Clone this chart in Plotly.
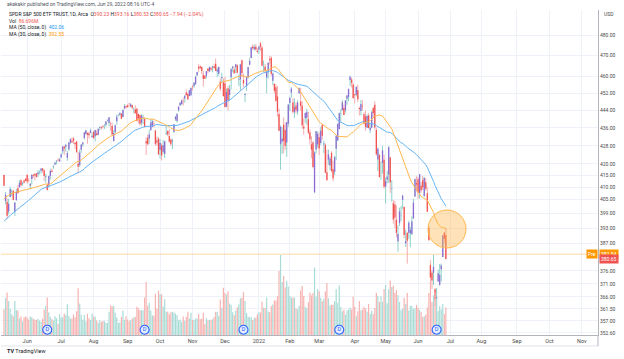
import math
import pandas as pd
import plotly.graph_objects as go

# ---------------- data (SPY daily, dividend-adjusted as displayed) ----------------
opens = [
    415.2, 404.2, 403.9, 399.8, 405.9, 408.1, 408.5, 399.6, 404.5, 409.6, 410.0, 413.0, 411.6, 412.9, 413.6,
    415.3, 413.1, 410.6, 413.5, 415.3, 415.8, 415.9, 415.6, 416.9, 417.1, 418.1, 417.3, 414.4, 411.0, 410.7, 414.8, 417.1, 418.8, 419.8, 421.1, 421.8, 421.1,
    422.8, 425.6, 427.7, 427.6, 422.7, 426.4, 429.3, 430.1, 431.3, 429.4, 429.9, 420.1, 419.6, 426.2, 428.6, 431.4, 433.2, 433.8, 433.6, 433.7, 431.8,
    434.1, 432.2, 433.6, 432.9, 435.9, 436.3, 436.8, 437.6, 437.4, 439.4, 438.3, 438.0, 436.8, 430.1, 434.0, 439.0, 441.7, 442.0, 442.4, 440.9, 444.8, 445.9,
    446.3, 447.0, 445.7, 446.4, 444.5, 444.4, 444.7, 442.3, 441.8, 438.3, 440.7, 440.0, 430.0, 431.6, 431.2, 435.0, 436.5, 437.9, 434.8, 430.3, 431.1,
    426.1, 428.1, 425.3, 424.4, 433.5, 434.6, 432.3, 430.8, 429.8, 434.2, 439.9, 439.1, 444.0, 446.2, 446.9, 448.2, 449.4, 452.3, 451.6, 450.6, 451.0,
    455.3, 455.3, 456.3, 460.4, 464.3, 464.7, 464.3, 460.6, 460.2, 460.1, 463.6, 462.2, 464.0, 464.2, 464.6, 465.9, 462.2, 461.1, 457.3, 459.1, 457.0,
    456.6, 445.7, 454.2, 451.1, 459.4, 463.7, 463.2, 464.2, 465.2, 458.1, 458.4, 467.6, 458.2, 451.1, 455.2, 459.4, 465.4, 468.7, 474.3, 473.0, 474.2, 472.2,
    472.9, 475.8, 473.8, 464.5, 464.5, 459.3, 461.8, 468.2, 468.8, 457.8, 456.3, 454.7, 450.4, 442.3, 428.7, 429.8, 437.4, 435.0, 429.4, 437.9,
    447.4, 452.2, 447.6, 443.1, 446.2, 443.4, 451.9, 448.0, 446.1, 436.6, 440.4, 440.6, 439.9, 434.0, 428.6, 429.4, 407.9, 426.3, 428.7,
    431.8, 429.2, 437.3, 428.6, 428.4, 416.4, 421.9, 419.3, 424.9, 417.7, 416.6, 426.7, 430.4, 435.5, 442.4, 444.0, 445.0, 444.0, 449.3, 450.2, 458.1, 458.4, 456.0,
    451.4, 451.2, 453.3, 445.0, 443.7, 446.1, 442.2, 441.2, 436.1, 441.7, 434.9, 436.0, 445.0, 446.6, 435.0, 421.9, 424.0, 415.4, 420.5, 421.8,
    410.3, 413.2, 415.3, 422.8, 409.3, 403.3, 402.7, 396.4, 387.7, 395.0, 398.3, 404.7, 401.7, 386.9, 391.1, 391.1, 390.9, 390.6, 397.0, 406.1, 411.8,
    413.4, 407.6, 410.6, 413.0, 406.3, 412.1, 407.5, 393.2, 378.3, 375.3, 375.3, 368.9, 365.5, 371.9, 370.6, 376.6, 381.4, 391.1, 390.23,
]
highs = [
    415.4, 408.0, 405.3, 405.1, 410.2, 409.1, 408.8, 403.8, 409.3, 410.9, 413.0, 413.4, 412.3, 413.4, 413.9,
    415.4, 413.9, 411.7, 415.6, 415.5, 415.9, 416.0, 417.3, 417.1, 418.1, 418.2, 417.6, 415.7, 411.7, 415.0, 417.9, 418.0, 419.5, 421.0, 421.6, 422.5, 422.7,
    424.5, 428.0, 427.9, 428.7, 425.6, 429.7, 431.3, 431.7, 431.8, 429.4, 430.0, 425.3, 426.3, 428.6, 429.6, 434.2, 434.9, 433.8, 434.2, 435.7, 434.0,
    434.7, 435.1, 434.9, 435.7, 436.7, 436.6, 437.2, 437.7, 439.1, 439.7, 440.9, 438.8, 438.4, 434.9, 437.5, 442.0, 442.3, 443.3, 442.7, 444.5, 446.9, 446.3,
    446.8, 447.3, 447.3, 446.5, 445.4, 446.3, 445.1, 442.6, 442.0, 442.1, 442.1, 440.5, 431.7, 433.0, 435.1, 440.0, 439.8, 439.2, 435.1, 432.1, 431.9,
    431.1, 429.1, 430.6, 430.2, 436.8, 435.0, 435.4, 431.2, 431.2, 437.8, 441.4, 442.7, 445.8, 447.8, 448.9, 449.8, 451.0, 453.6, 452.3, 453.5, 454.7,
    455.7, 457.2, 460.2, 462.0, 465.7, 465.2, 464.6, 462.4, 460.3, 462.4, 463.8, 464.6, 464.2, 465.0, 465.9, 468.5, 464.1, 464.6, 458.9, 461.6, 459.0,
    459.7, 454.1, 455.3, 455.8, 463.9, 465.0, 464.6, 465.9, 465.6, 460.7, 465.9, 467.9, 461.3, 452.0, 459.8, 464.4, 468.8, 473.9, 475.4, 475.2, 475.6, 473.5,
    474.5, 476.6, 474.6, 467.4, 465.8, 462.3, 466.5, 469.8, 469.5, 461.7, 456.6, 456.2, 455.3, 444.8, 437.1, 436.4, 440.7, 438.3, 438.3, 447.0,
    450.3, 454.8, 449.7, 449.5, 447.7, 448.6, 454.6, 454.4, 448.3, 440.2, 443.0, 444.8, 443.3, 435.4, 432.2, 430.0, 425.5, 434.5, 434.5,
    434.0, 436.5, 437.9, 430.2, 429.1, 426.3, 426.3, 423.2, 425.6, 421.4, 423.6, 432.5, 437.9, 443.0, 444.6, 448.7, 446.6, 448.6, 451.1, 454.0, 460.2, 459.3, 456.9,
    451.6, 455.0, 455.9, 445.7, 448.8, 448.7, 443.1, 443.9, 442.2, 442.8, 437.9, 443.9, 445.7, 448.1, 436.2, 427.2, 424.2, 421.1, 428.0, 424.1,
    414.1, 417.1, 427.9, 423.2, 413.0, 404.6, 404.3, 402.3, 394.1, 401.4, 402.2, 406.8, 402.0, 392.4, 391.3, 396.0, 393.5, 397.8, 405.2, 413.6, 414.7,
    414.4, 415.6, 412.2, 414.8, 414.4, 414.0, 409.9, 394.1, 380.2, 376.3, 382.3, 369.3, 369.38, 376.5, 378.7, 378.8, 390.1, 391.4, 393.16,
]
lows = [
    410.5, 402.8, 396.7, 398.6, 405.9, 406.1, 404.5, 398.0, 404.4, 407.2, 409.8, 410.3, 410.7, 411.6, 412.5,
    411.5, 412.0, 409.0, 411.1, 413.9, 413.0, 414.1, 414.3, 415.5, 415.8, 416.2, 412.6, 412.0, 408.6, 409.8, 413.3, 416.4, 417.9, 419.5, 419.8, 421.1, 421.1,
    422.7, 424.4, 423.9, 425.4, 421.4, 425.8, 428.8, 429.2, 428.8, 426.6, 424.8, 415.9, 418.7, 424.9, 427.6, 430.7, 432.9, 428.9, 431.2, 433.7, 431.7,
    431.1, 429.9, 432.5, 432.6, 434.9, 435.1, 435.7, 435.5, 436.5, 438.9, 436.7, 434.7, 432.7, 429.9, 433.5, 437.5, 441.2, 441.6, 440.0, 440.9, 444.5, 444.7,
    445.2, 445.6, 445.2, 444.4, 442.6, 442.4, 439.0, 438.0, 436.9, 437.1, 437.7, 436.1, 423.9, 428.2, 428.9, 434.7, 436.3, 436.3, 428.0, 428.1, 423.9,
    422.3, 421.5, 424.5, 422.6, 432.7, 432.3, 429.4, 427.9, 426.6, 433.7, 439.2, 438.4, 443.4, 446.1, 446.4, 446.2, 447.5, 450.7, 449.0, 450.5, 450.7,
    453.2, 454.3, 455.8, 460.0, 461.9, 463.2, 460.9, 455.0, 458.7, 459.0, 461.3, 462.1, 462.5, 461.8, 463.5, 462.4, 459.5, 460.2, 452.8, 456.7, 450.3,
    445.3, 445.3, 443.9, 448.6, 453.7, 461.8, 461.1, 461.5, 461.3, 455.3, 453.1, 459.5, 454.8, 447.7, 452.9, 458.7, 465.2, 468.6, 472.7, 472.5, 472.3, 471.3,
    470.5, 472.2, 464.9, 462.0, 461.3, 451.9, 458.8, 465.5, 460.0, 455.6, 451.9, 447.9, 441.1, 434.6, 417.5, 424.4, 424.7, 426.2, 423.1, 436.5,
    443.6, 449.9, 442.4, 440.5, 442.6, 441.9, 451.7, 443.9, 435.6, 432.9, 438.3, 437.4, 433.1, 428.5, 422.6, 418.1, 407.5, 424.6, 427.2,
    423.9, 428.4, 430.6, 424.7, 416.1, 412.6, 419.6, 417.2, 416.3, 412.6, 415.2, 421.6, 430.0, 435.4, 438.8, 444.0, 441.8, 442.9, 446.5, 448.2, 455.3, 454.6, 449.3,
    447.2, 450.4, 447.9, 441.6, 441.6, 444.0, 437.5, 434.7, 435.9, 435.8, 433.7, 435.8, 440.5, 435.2, 423.6, 417.0, 414.2, 413.2, 415.8, 409.4,
    403.2, 411.6, 411.9, 407.6, 403.9, 394.8, 393.1, 389.3, 383.5, 393.9, 395.9, 400.8, 388.9, 385.4, 378.8, 388.7, 385.3, 390.2, 396.8, 405.9, 408.2,
    405.1, 405.2, 407.7, 408.8, 405.8, 408.6, 399.6, 388.0, 371.7, 369.0, 370.5, 362.5, 362.17, 371.8, 370.2, 371.9, 381.4, 386.9, 380.53,
]
closes = [
    410.6, 406.9, 398.1, 403.0, 409.3, 408.2, 404.6, 403.6, 408.0, 407.6, 411.9, 410.9, 411.8, 412.0, 412.7,
    412.4, 413.0, 411.5, 415.3, 414.9, 415.0, 414.4, 416.3, 417.0, 418.0, 417.2, 414.8, 414.7, 408.8, 414.8, 417.0, 416.5, 419.0, 420.5, 421.4, 421.6, 422.0,
    424.3, 427.6, 426.8, 428.4, 424.8, 429.4, 431.0, 429.5, 430.1, 428.7, 425.2, 418.9, 425.0, 428.5, 429.4, 433.9, 434.9, 432.9, 432.7, 434.9, 432.4,
    431.4, 435.0, 432.8, 435.6, 436.3, 435.9, 436.5, 437.7, 438.9, 439.7, 440.8, 437.8, 433.0, 433.7, 437.2, 441.1, 441.8, 442.7, 440.1, 444.1, 446.0, 445.4,
    445.5, 446.9, 446.8, 445.2, 444.6, 442.7, 439.1, 440.3, 437.9, 441.6, 440.9, 436.5, 429.1, 428.7, 433.0, 438.3, 439.0, 437.7, 428.8, 429.6, 424.2,
    429.3, 423.7, 428.2, 430.0, 433.8, 433.0, 429.8, 428.7, 430.3, 437.6, 441.0, 442.3, 445.7, 447.5, 448.7, 448.1, 450.7, 451.1, 449.0, 453.4, 454.4,
    455.0, 456.9, 459.7, 461.9, 463.5, 463.9, 462.4, 458.6, 458.8, 462.3, 462.4, 464.3, 463.1, 464.7, 463.9, 462.6, 463.2, 464.4, 454.0, 459.6, 450.6,
    445.5, 452.4, 448.4, 453.8, 463.3, 464.5, 461.4, 465.7, 461.6, 458.4, 465.6, 461.5, 456.5, 451.6, 459.7, 464.3, 467.2, 473.9, 473.5, 474.1, 472.8, 471.6,
    474.3, 474.2, 465.0, 464.6, 462.7, 462.1, 466.4, 467.6, 461.1, 461.3, 453.1, 448.4, 443.4, 434.7, 436.5, 431.2, 430.1, 427.9, 438.7, 446.6,
    449.7, 454.1, 443.3, 445.4, 444.0, 447.6, 454.2, 446.0, 437.2, 435.7, 442.8, 443.3, 433.8, 430.9, 426.3, 418.7, 425.0, 434.5, 433.3,
    426.8, 434.7, 432.5, 429.0, 416.2, 413.1, 424.2, 422.3, 416.9, 413.8, 423.0, 432.4, 437.9, 442.6, 442.5, 447.7, 441.9, 448.6, 450.8, 454.0, 459.7, 456.8, 449.7,
    451.0, 454.9, 449.1, 444.6, 446.9, 445.7, 438.0, 436.4, 441.4, 435.9, 436.1, 443.1, 442.8, 436.2, 424.2, 426.7, 414.3, 415.5, 426.0, 410.2,
    412.7, 414.6, 427.3, 412.0, 409.5, 396.5, 397.4, 391.1, 390.6, 399.9, 398.4, 406.5, 390.2, 387.8, 387.9, 395.2, 392.2, 395.7, 403.5, 413.5, 411.1,
    407.8, 415.6, 408.7, 410.0, 413.9, 409.4, 399.7, 388.1, 373.4, 372.3, 377.6, 365.1, 365.86, 375.07, 374.39, 378.06, 390.08, 388.59, 380.65,
]
volumes_m = [
    81, 116, 134, 106, 82, 65, 59, 107, 79, 77, 52, 58, 43, 56, 58,
    55, 49, 58, 56, 51, 48, 48, 51, 45, 42, 51, 80, 91, 118, 72, 57, 50, 45, 59, 53, 35, 65,
    54, 57, 68, 63, 97, 60, 52, 52, 65, 55, 75, 147, 99, 64, 48, 63, 43, 67, 53, 47, 68,
    58, 58, 46, 38, 46, 41, 44, 44, 38, 39, 73, 93, 90, 92, 71, 55, 38, 40, 57, 77, 48, 59,
    48, 43, 47, 51, 56, 57, 89, 84, 78, 78, 78, 118, 167, 92, 102, 77, 62, 61, 130, 83, 140,
    129, 128, 90, 113, 73, 74, 65, 72, 73, 71, 67, 62, 46, 49, 41, 58, 45, 57, 73, 52, 70,
    48, 48, 52, 52, 66, 50, 52, 70, 35, 53, 46, 48, 48, 50, 57, 73, 73, 61, 112, 86, 149,
    132, 127, 137, 99, 95, 72, 62, 77, 87, 97, 116, 117, 135, 107, 69, 58, 56, 56, 47, 54, 55, 65,
    72, 71, 105, 86, 85, 119, 74, 72, 91, 96, 109, 109, 122, 202, 252, 167, 186, 150, 171, 153,
    123, 118, 118, 118, 84, 81, 92, 140, 154, 123, 89, 84, 103, 133, 125, 132, 213, 121, 145,
    138, 117, 106, 114, 137, 164, 116, 93, 95, 95, 106, 144, 102, 156, 88, 75, 80, 64, 77, 80, 87, 80, 121,
    89, 59, 75, 107, 78, 80, 89, 84, 74, 98, 67, 77, 65, 85, 132, 123, 104, 122, 105, 145,
    158, 100, 144, 172, 151, 155, 132, 142, 125, 104, 78, 83, 117, 98, 132, 77, 92, 91, 82, 84, 95,
    86, 79, 72, 57, 59, 64, 87, 132, 170, 104, 125, 134, 111, 76, 91, 80, 98, 66, 86.7,
]
# closes of the 49 sessions before the first bar (needed for the moving averages)
warmup_closes = [
    381.6, 378.6, 373.6, 368.9, 375.8, 373.9, 379.3, 381.6, 385.5, 386.0, 388.3, 387.8, 389.2, 383.5, 382.5,
    385.6, 382.5, 380.5, 382.7, 389.0, 388.8, 387.7, 389.3,
    393.6, 399.4, 399.1, 399.6, 401.5, 404.5, 404.6, 405.9, 404.5, 408.9, 410.3, 408.2, 405.2, 409.1, 405.3,
    409.7, 410.6, 410.5, 410.4, 413.1, 410.3,
    411.2, 408.6, 408.7, 412.1, 415.1,
]
month_keys = ["2021-06", "2021-07", "2021-08", "2021-09", "2021-10", "2021-11", "2021-12", "2022-01",
              "2022-02", "2022-03", "2022-04", "2022-05", "2022-06", "2022-07", "2022-08", "2022-09",
              "2022-10", "2022-11"]
month_labels = ["Jun", "Jul", "Aug", "Sep", "Oct", "Nov", "Dec", "2022", "Feb", "Mar", "Apr", "May",
                "Jun", "Jul", "Aug", "Sep", "Oct", "Nov"]
price_ticks = [480, 470, 460, 452, 444, 436, 428, 420, 415, 410, 405, 399, 393, 387, 376, 371,
               366, 361.5, 357, 352.6]
dividend_dates = ["2021-06-18", "2021-09-17", "2021-12-17", "2022-03-18", "2022-06-17"]
pre_price = 382.54
last_close = 380.65
holidays = ["2021-05-31", "2021-07-05", "2021-09-06", "2021-11-25", "2021-12-24", "2022-01-17",
            "2022-02-21", "2022-04-15", "2022-05-30", "2022-06-20", "2022-07-04", "2022-09-05"]

# ---------------- trading calendar / positions ----------------
calendar = [d for d in pd.bdate_range("2021-05-10", "2022-11-30") if d.strftime("%Y-%m-%d") not in holidays]
n = len(closes)
dates = [d.strftime("%Y-%m-%d") for d in calendar[:n]]
idx = list(range(n))
tick_pos = [next(i for i, d in enumerate(calendar) if d.strftime("%Y-%m") == m) for m in month_keys]
div_pos = [dates.index(d) for d in dividend_dates]

all_close = pd.Series(warmup_closes + closes)
ma50 = all_close.rolling(50).mean().iloc[len(warmup_closes):].tolist()
ma30 = all_close.rolling(30).mean().iloc[len(warmup_closes):].tolist()

UP_BODY, DN_BODY = "#8e6bd3", "#ef5350"
UP_WICK, DN_WICK = "#80cbc4", "#f4a3a8"
UP_VOL, DN_VOL = "#a9dcd6", "#f7b3b1"

up = [i for i in idx if closes[i] >= opens[i]]
dn = [i for i in idx if closes[i] < opens[i]]


def segments(sel, a, b):
    xs, ys = [], []
    for i in sel:
        xs += [i, i, None]
        ys += [a[i], b[i], None]
    return xs, ys


fig = go.Figure()

# volume (overlay)
fig.add_trace(go.Bar(x=idx, y=volumes_m, yaxis="y2", width=0.78,
                     marker=dict(color=[UP_VOL if closes[i] >= opens[i] else DN_VOL for i in idx], line_width=0),
                     hoverinfo="skip"))

# pre-market line
fig.add_trace(go.Scatter(x=[-10, 400], y=[pre_price, pre_price], mode="lines",
                         line=dict(color="rgba(255,152,0,0.35)", width=1), hoverinfo="skip"))

# wicks
for sel, col in ((up, UP_WICK), (dn, DN_WICK)):
    xs, ys = segments(sel, lows, highs)
    fig.add_trace(go.Scatter(x=xs, y=ys, mode="lines", line=dict(color=col, width=0.9), hoverinfo="skip"))
# bodies
for sel, col in ((up, UP_BODY), (dn, DN_BODY)):
    xs, ys = segments(sel, opens, closes)
    fig.add_trace(go.Scatter(x=xs, y=ys, mode="lines", line=dict(color=col, width=1.3), hoverinfo="skip"))

# moving averages
fig.add_trace(go.Scatter(x=idx, y=ma50, mode="lines", line=dict(color="#64b5f6", width=1), hoverinfo="skip"))
fig.add_trace(go.Scatter(x=idx, y=ma30, mode="lines", line=dict(color="#ffb74d", width=1), hoverinfo="skip"))

# dividend markers
fig.add_trace(go.Scatter(x=div_pos, y=[0.016] * len(div_pos), yaxis="y3", mode="markers+text",
                         text=["D"] * len(div_pos), textposition="middle center",
                         textfont=dict(size=5.5, color="#2962ff", family="Roboto"),
                         marker=dict(size=9, color="#e3ebff", line=dict(color="#2962ff", width=1.1)),
                         hoverinfo="skip"))

# ---------------- layout ----------------
L, R, T, B, W, H = 1, 26, 10, 24, 624, 359
PW, PH = W - L - R, H - T - B


def px_x(px):
    return (px - L) / PW


def px_y(py):
    return (H - B - py) / PH


x0_bar, px_per_bar = 4.0, 1.545
x_range = [(L - x0_bar) / px_per_bar, (W - R - x0_bar) / px_per_bar]

fig.update_layout(
    width=W, height=H, margin=dict(l=L, r=R, t=T, b=B),
    paper_bgcolor="white", plot_bgcolor="white", showlegend=False,
    font=dict(family="Roboto", size=6, color="#131722"),
    xaxis=dict(range=x_range, tickvals=tick_pos, ticktext=month_labels, showgrid=True,
               gridcolor="#eef1f7", gridwidth=1, zeroline=False, showline=True,
               linecolor="#b2b5be", linewidth=1, ticks="", tickfont=dict(size=5.5, color="#4a4a4a")),
    yaxis=dict(type="log", side="right", range=[2.54635, 2.69248], tickvals=price_ticks,
               ticktext=[f"{v:.2f}" for v in price_ticks], showgrid=True, gridcolor="#eef1f7",
               zeroline=False, showline=True, linecolor="#b2b5be", linewidth=1, ticks="",
               tickfont=dict(size=5, color="#4a4a4a")),
    yaxis2=dict(overlaying="y", range=[0, 1024], visible=False),
    yaxis3=dict(overlaying="y", range=[0, 1], visible=False),
)

# highlight circle
fig.add_shape(type="circle", xref="paper", yref="paper",
              x0=px_x(428), x1=px_x(466), y0=px_y(248), y1=px_y(210),
              fillcolor="rgba(255,183,77,0.40)", line=dict(color="#ffb74d", width=1))
# bottom frame
fig.add_shape(type="line", xref="paper", yref="paper", x0=0, x1=1, y0=px_y(346), y1=px_y(346),
              line=dict(color="#e0e3eb", width=1))
fig.add_shape(type="line", xref="paper", yref="paper", x0=1, x1=1, y0=px_y(346), y1=0,
              line=dict(color="#b2b5be", width=1))

ann = []
ann.append(dict(x=px_x(5), y=px_y(4), xref="paper", yref="paper", xanchor="left", yanchor="middle",
                text="akakakir published on TradingView.com, Jun 29, 2022 08:16 UTC-4",
                font=dict(size=5, color="#50535e"), showarrow=False))
red = "#ef5350"
g = "#131722"
ann.append(dict(x=px_x(7), y=px_y(15), xref="paper", yref="paper", xanchor="left", yanchor="middle",
                text=(f"<span style='color:{g}'>SPDR S&P 500 ETF TRUST, 1D, Arca</span>  "
                      f"<span style='color:{g}'>O</span><span style='color:{red}'>390.23</span> "
                      f"<span style='color:{g}'>H</span><span style='color:{red}'>393.16</span> "
                      f"<span style='color:{g}'>L</span><span style='color:{red}'>380.53</span> "
                      f"<span style='color:{g}'>C</span><span style='color:{red}'>380.65 −7.94 (−2.04%)</span>"),
                font=dict(size=5), showarrow=False))
ann.append(dict(x=px_x(7), y=px_y(21.5), xref="paper", yref="paper", xanchor="left", yanchor="middle",
                text=f"<span style='color:{g}'>Vol</span>  <span style='color:{red}'>86.696M</span>",
                font=dict(size=5), showarrow=False))
ann.append(dict(x=px_x(7), y=px_y(28), xref="paper", yref="paper", xanchor="left", yanchor="middle",
                text=f"<span style='color:{g}'>MA (50, close, 0)</span>  <span style='color:#2196f3'>402.06</span>",
                font=dict(size=5), showarrow=False))
ann.append(dict(x=px_x(7), y=px_y(34.5), xref="paper", yref="paper", xanchor="left", yanchor="middle",
                text=f"<span style='color:{g}'>MA (30, close, 0)</span>  <span style='color:#ff9800'>392.55</span>",
                font=dict(size=5), showarrow=False))
# axis currency
ann.append(dict(x=px_x(602), y=px_y(14), xref="paper", yref="paper", xanchor="left", yanchor="middle",
                text="USD", font=dict(size=5, color="#4a4a4a"), showarrow=False))
# price tags
ann.append(dict(x=px_x(599), y=math.log10(pre_price), xref="paper", yref="y", xanchor="left", yanchor="middle",
                text=f"{pre_price:.2f}", font=dict(size=5, color="white"), bgcolor="#ff9800",
                borderpad=1, showarrow=False))
ann.append(dict(x=px_x(598), y=math.log10(pre_price), xref="paper", yref="y", xanchor="right", yanchor="middle",
                text="Pre", font=dict(size=5, color="white"), bgcolor="#ff9800",
                borderpad=1, showarrow=False))
ann.append(dict(x=px_x(599), y=math.log10(last_close), xref="paper", yref="y", xanchor="left", yanchor="middle",
                text=f"{last_close:.2f}", font=dict(size=5, color="white"), bgcolor="#ef5350",
                borderpad=1, showarrow=False))
# logo
ann.append(dict(x=px_x(5), y=px_y(351), xref="paper", yref="paper", xanchor="left", yanchor="middle",
                text="<b>TV</b> TradingView", font=dict(size=5.5, color="#131722"), showarrow=False))
fig.update_layout(annotations=ann)

fig.write_html("out.html", config={"displayModeBar": False, "staticPlot": True},
               post_script="document.body.style.margin='0';document.body.style.padding='0';")
